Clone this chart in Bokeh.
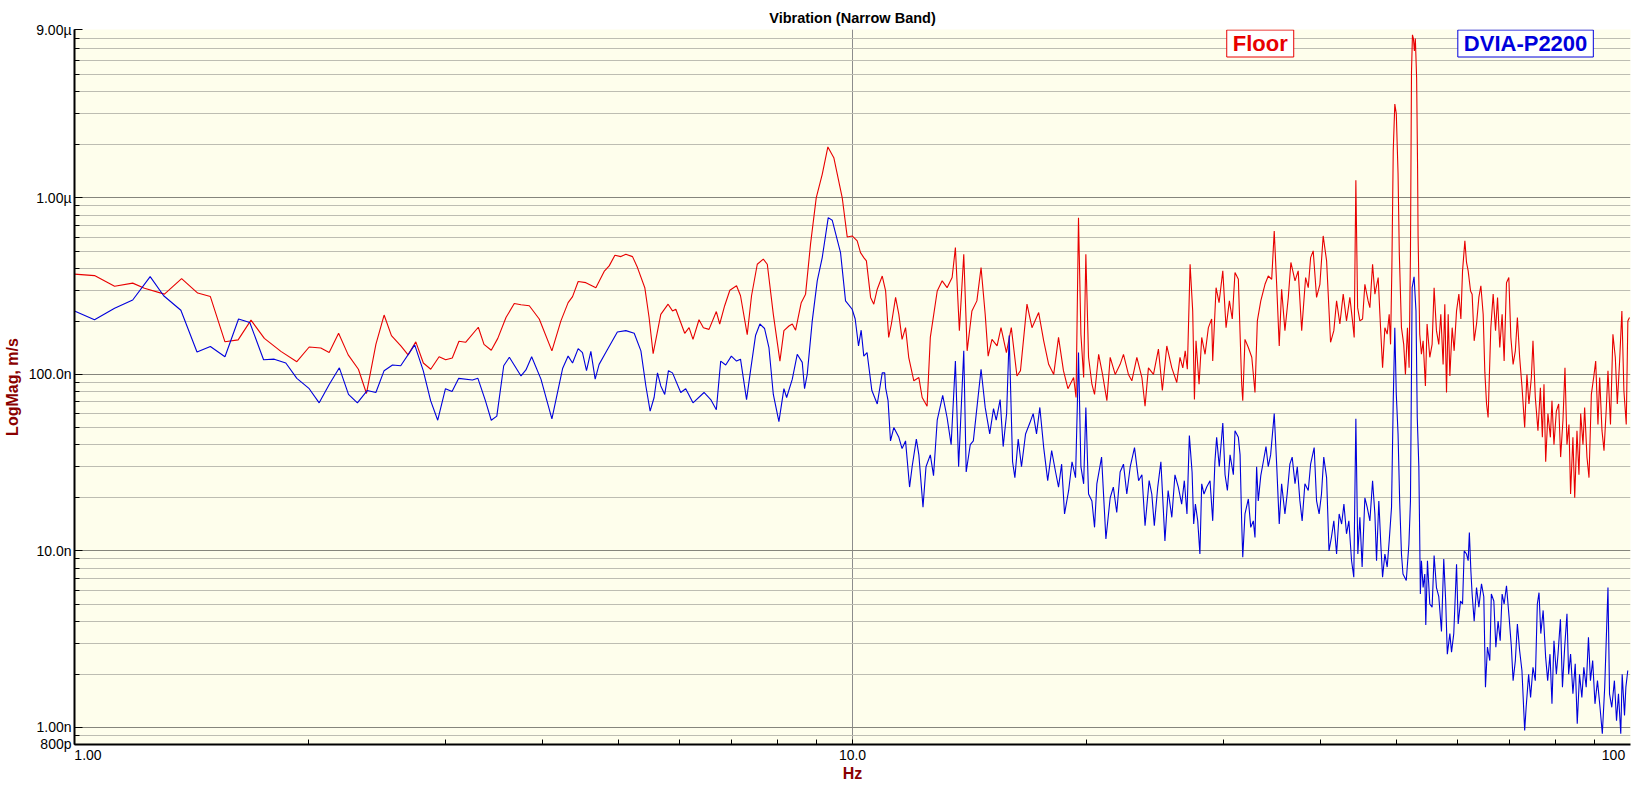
import math
from bokeh.plotting import figure
from bokeh.models import FixedTicker, Label, ColumnDataSource, CustomJSTickFormatter, Range1d
from bokeh.embed import file_html
from bokeh.resources import INLINE

# ---------------- data (frequency in Hz, velocity in nm/s) ----------------
floor_hz = [1.000, 1.061, 1.126, 1.188, 1.230, 1.305, 1.373, 1.440, 1.495, 1.561, 1.623, 1.686, 1.754,
            1.842, 1.931, 2.003, 2.073, 2.125, 2.185, 2.248, 2.317, 2.373, 2.440, 2.500, 2.555, 2.627,
            2.684, 2.746, 2.808, 2.870, 2.942, 3.000, 3.059, 3.120, 3.182, 3.304, 3.360, 3.433,
            3.500, 3.586, 3.675, 3.749, 3.842, 3.957, 4.108, 4.219, 4.310, 4.367, 4.440, 4.542, 4.679,
            4.795, 4.867, 4.950, 5.039, 5.113, 5.215, 5.292, 5.408, 5.477, 5.543, 5.670, 5.794, 5.870,
            5.928, 6.086, 6.165, 6.237, 6.349, 6.432, 6.540, 6.683, 6.750, 6.850, 6.956, 7.095, 7.179,
            7.323, 7.417, 7.544, 7.680, 7.771, 7.911, 8.067, 8.163, 8.285, 8.368, 8.450, 8.592, 8.703,
            8.832, 8.982, 9.143, 9.297, 9.462, 9.701, 9.845, 9.990, 10.14, 10.24, 10.34, 10.42, 10.55,
            10.65, 10.76, 10.92, 11.03, 11.13, 11.22, 11.36, 11.47, 11.58, 11.70, 11.81, 11.99, 12.17,
            12.29, 12.47, 12.59, 12.85, 13.04, 13.23, 13.43, 13.56, 13.72, 13.90, 14.04, 14.24, 14.45,
            14.63, 14.81, 14.94, 15.11, 15.34, 15.52, 15.77, 16.00, 16.27, 16.44, 16.76, 17.01, 17.35,
            17.61, 17.87, 18.14, 18.40, 18.67, 18.92, 19.24, 19.38, 19.52, 19.66, 19.82, 19.95, 20.11,
            20.31, 20.47, 20.72, 20.96, 21.23, 21.44, 21.76, 22.08, 22.30, 22.63, 22.86, 23.20, 23.55,
            23.77, 24.01, 24.37, 24.73, 25.02, 25.35, 25.73, 26.11, 26.36, 26.58, 26.77, 26.94, 27.16,
            27.37, 27.51, 27.64, 27.89, 28.11, 28.39, 28.67, 28.95, 29.04, 29.33, 29.59, 29.92, 30.21,
            30.51, 30.77, 31.02, 31.33, 31.64, 31.74, 31.95, 32.27, 32.60, 32.91, 33.14, 33.48, 33.90,
            34.23, 34.58, 34.84, 35.09, 35.36, 35.61, 35.96, 36.32, 36.60, 37.05, 37.40, 37.79, 38.23,
            38.53, 38.80, 39.10, 39.49, 39.88, 40.27, 40.68, 41.16, 41.56, 41.90, 42.31, 42.73, 43.15,
            43.58, 43.92, 44.14, 44.36, 44.59, 44.89, 45.25, 45.56, 46.00, 46.24, 46.61, 46.93, 47.39,
            47.63, 48.01, 48.34, 48.67, 48.96, 49.16, 49.35, 49.55, 49.78, 50.00, 50.26, 50.45, 50.77,
            51.11, 51.37, 51.68, 51.93, 52.14, 52.30, 52.45, 52.60, 52.75, 52.90, 53.10, 53.25, 53.33,
            53.59, 53.86, 54.13, 54.50, 54.77, 55.21, 55.59, 55.92, 56.31, 56.70, 57.04, 57.43, 57.72,
            58.01, 58.30, 58.59, 58.99, 59.34, 59.76, 60.17, 60.53, 60.83, 61.25, 61.55, 61.85, 62.29,
            62.58, 62.96, 63.40, 63.84, 64.22, 64.66, 64.98, 65.31, 65.61, 66.14, 66.60, 67.07, 67.47,
            67.92, 68.39, 68.80, 69.28, 69.76, 70.18, 70.65, 71.12, 71.55, 72.03, 72.52, 73.11, 73.60,
            74.04, 74.57, 74.93, 75.45, 76.04, 76.59, 77.04, 77.41, 77.80, 78.32, 78.89, 79.26, 79.73,
            80.30, 80.85, 81.32, 81.88, 82.37, 82.86, 83.35, 83.75, 84.33, 84.78, 85.35, 85.85, 86.29,
            86.88, 87.31, 87.91, 88.44, 89.06, 89.67, 90.21, 90.82, 91.28, 91.91, 92.46, 93.10, 93.55,
            94.25, 94.93, 95.60, 96.17, 96.83, 97.48, 98.06, 98.75, 99.22, 99.70]
floor_nms = [370, 363, 316, 329, 308, 285, 349, 289, 276, 153, 157, 203, 160,
             135, 118, 143, 141, 133, 171, 129, 107, 78, 148, 217, 166, 145,
             129, 153, 116, 107, 126, 121, 124, 154, 152, 185, 148, 137,
             160, 210, 252, 248, 245, 206, 136, 201, 255, 276, 336, 331, 310,
             383, 412, 473, 465, 480, 465, 403, 310, 210, 131, 219, 250, 229,
             234, 171, 184, 158, 204, 184, 180, 227, 193, 245, 300, 318, 279,
             168, 279, 421, 450, 421, 219, 119, 177, 188, 193, 178, 255, 285,
             547, 1000, 1361, 1945, 1690, 1000, 601, 609, 571, 490, 459, 440, 273,
             250, 304, 361, 297, 162, 193, 273, 219, 158, 184, 125, 92, 96,
             74, 66, 162, 297, 339, 310, 354, 523, 177, 480, 136, 229, 261,
             403, 219, 127, 158, 145, 184, 133, 184, 98, 105, 250, 184, 224,
             155, 114, 100, 162, 105, 83, 96, 74, 773, 169, 96, 480, 125,
             88, 77, 130, 100, 71, 125, 100, 114, 130, 100, 92, 125, 96,
             66, 109, 100, 139, 81, 145, 109, 90, 125, 109, 136, 107, 421,
             229, 72, 155, 88, 162, 130, 184, 206, 119, 310, 255, 386, 184,
             261, 206, 378, 346, 88, 71, 158, 142, 125, 79, 201, 261, 324,
             361, 346, 650, 324, 145, 304, 177, 273, 431, 339, 386, 177, 354,
             310, 459, 501, 273, 324, 609, 440, 152, 177, 261, 193, 285, 201,
             273, 201, 162, 1260, 239, 201, 206, 324, 261, 239, 421, 285, 354,
             219, 109, 184, 169, 219, 148, 403, 1850, 3400, 3000, 1370, 480, 184,
             148, 100, 184, 109, 480, 5200, 8400, 8000, 6800, 8000, 4800, 1480, 609,
             169, 130, 155, 86, 193, 125, 148, 310, 177, 148, 219, 114, 250,
             79, 219, 98, 184, 136, 229, 285, 206, 386, 571, 431, 386, 297,
             285, 155, 193, 273, 318, 219, 103, 68, 57, 184, 285, 177, 273,
             142, 219, 119, 331, 354, 162, 114, 136, 210, 125, 86, 50, 100,
             68, 96, 155, 74, 48, 84, 44, 88, 32, 60, 44, 71, 40,
             62, 68, 34, 55, 109, 40, 52, 21, 44, 20, 48, 27, 60,
             40, 65, 34, 26, 77, 96, 119, 52, 96, 48, 37, 65, 105,
             52, 169, 125, 68, 119, 229, 81, 52, 201, 210]

dvia_hz = [1.000, 1.061, 1.126, 1.188, 1.251, 1.302, 1.370, 1.437, 1.495, 1.561, 1.625, 1.680, 1.750,
           1.806, 1.869, 1.931, 2.003, 2.063, 2.126, 2.190, 2.250, 2.310, 2.378, 2.440, 2.500, 2.563,
           2.626, 2.737, 2.807, 2.869, 2.930, 2.998, 3.057, 3.118, 3.247, 3.300, 3.374, 3.433,
           3.490, 3.562, 3.622, 3.749, 3.804, 3.869, 3.977, 4.108, 4.240, 4.310, 4.367, 4.440, 4.497,
           4.551, 4.610, 4.669, 4.724, 4.818, 4.986, 5.113, 5.241, 5.346, 5.425, 5.494, 5.559, 5.615,
           5.670, 5.737, 5.800, 5.870, 6.015, 6.104, 6.237, 6.444, 6.573, 6.683, 6.770, 6.871, 6.987,
           7.095, 7.179, 7.308, 7.395, 7.505, 7.603, 7.709, 7.809, 7.911, 8.043, 8.163, 8.229, 8.368,
           8.491, 8.618, 8.677, 8.746, 8.877, 9.009, 9.143, 9.307, 9.417, 9.652, 9.796, 9.990, 10.08,
           10.18, 10.26, 10.34, 10.44, 10.59, 10.76, 10.92, 11.00, 11.03, 11.11, 11.19, 11.30, 11.47,
           11.58, 11.70, 11.84, 11.93, 12.08, 12.17, 12.32, 12.43, 12.59, 12.71, 12.85, 13.06, 13.23,
           13.39, 13.56, 13.69, 13.90, 14.00, 14.17, 14.30, 14.63, 14.81, 15.01, 15.18, 15.30, 15.48,
           15.62, 15.78, 15.90, 16.06, 16.17, 16.33, 16.49, 16.69, 16.90, 17.07, 17.24, 17.41, 17.61,
           17.82, 18.03, 18.24, 18.40, 18.57, 18.73, 18.96, 19.15, 19.35, 19.45, 19.52, 19.66, 19.82,
           19.95, 20.11, 20.31, 20.47, 20.61, 20.90, 21.17, 21.44, 21.64, 21.86, 22.08, 22.30, 22.52,
           22.75, 23.04, 23.32, 23.55, 23.77, 24.06, 24.25, 24.43, 24.68, 24.91, 25.21, 25.45, 25.73,
           25.97, 26.23, 26.49, 26.70, 26.91, 27.10, 27.32, 27.45, 27.59, 27.78, 27.96, 28.11, 28.30,
           28.53, 28.81, 29.04, 29.23, 29.38, 29.61, 29.92, 30.12, 30.33, 30.57, 30.87, 31.02, 31.33,
           31.49, 31.64, 31.74, 31.95, 32.27, 32.50, 32.75, 32.91, 33.07, 33.23, 33.48, 33.73, 34.00,
           34.23, 34.47, 34.84, 35.09, 35.36, 35.61, 35.96, 36.20, 36.49, 36.74, 37.05, 37.30, 37.59,
           37.84, 38.15, 38.53, 38.80, 39.21, 39.49, 39.79, 40.07, 40.34, 40.68, 40.97, 41.26, 41.56,
           41.90, 42.22, 42.53, 42.82, 43.15, 43.45, 43.80, 44.09, 44.36, 44.62, 44.89, 45.19, 45.56,
           45.87, 46.24, 46.61, 46.93, 47.16, 47.48, 47.76, 48.01, 48.34, 48.67, 48.96, 49.30, 49.55,
           49.78, 50.00, 50.26, 50.50, 50.77, 51.00, 51.50, 51.90, 52.14, 52.40, 52.70, 53.00, 53.20,
           53.45, 53.60, 53.69, 53.86, 54.13, 54.40, 54.56, 54.83, 55.21, 55.59, 55.92, 56.31, 56.70,
           57.15, 57.54, 57.87, 58.15, 58.59, 58.88, 59.27, 59.76, 60.05, 60.47, 60.83, 61.13, 61.55,
           61.85, 62.07, 62.35, 62.58, 62.96, 63.40, 63.84, 64.34, 64.78, 65.10, 65.48, 65.94, 66.24,
           66.73, 67.13, 67.58, 68.00, 68.39, 68.80, 69.28, 69.82, 70.29, 70.65, 71.12, 71.55, 72.03,
           72.52, 73.11, 73.43, 73.97, 74.40, 74.93, 75.45, 75.90, 76.28, 76.68, 77.22, 77.79, 78.26,
           78.80, 79.26, 79.73, 80.30, 80.69, 81.27, 81.76, 82.30, 82.86, 83.27, 83.75, 84.33, 84.91,
           85.42, 86.00, 86.59, 87.10, 87.71, 88.30, 88.82, 89.41, 90.02, 90.69, 91.37, 92.00, 92.65,
           93.55, 93.98, 94.61, 95.35, 95.95, 96.50, 97.16, 97.57, 98.24, 98.64, 99.20]
dvia_nms = [229, 204, 237, 264, 358, 279, 231, 134, 144, 126, 206, 197, 121,
            122, 116, 95, 83, 69, 88, 109, 77, 69, 81, 79, 105, 113,
            112, 147, 105, 71, 55, 83, 80, 95, 93, 95, 71, 55,
            58, 112, 125, 98, 106, 126, 94, 56, 108, 127, 116, 140, 133,
            105, 135, 94, 114, 133, 174, 177, 171, 136, 86, 62, 74, 102,
            86, 77, 105, 102, 79, 83, 69, 79, 72, 63, 119, 113, 127,
            119, 122, 72, 105, 166, 193, 182, 142, 77, 54, 83, 74, 94,
            130, 117, 83, 100, 201, 339, 459, 773, 748, 490, 261, 234, 206,
            145, 178, 127, 133, 81, 68, 102, 102, 84, 71, 42, 50, 44,
            38, 42, 23, 30, 43, 35, 17.7, 30, 35, 26.7, 55, 76, 57,
            40, 119, 30, 136, 28, 40, 42, 107, 65, 46, 64, 55, 72,
            39, 60, 166, 32, 26, 43, 30, 46, 53, 60, 46, 65, 38.5,
            25, 37, 28, 23, 31, 16.2, 22, 32, 26, 65, 133, 30, 24,
            65, 21, 19.2, 13.6, 24, 34, 11.7, 20, 23, 16.5, 28, 31, 21,
            30, 38.5, 25, 27, 13.9, 25, 21, 13.9, 23, 32, 11.4, 22, 15.5,
            27, 23, 18.4, 25, 16.2, 45, 28, 14.2, 18.4, 14.8, 9.6, 24, 21,
            23, 25, 14.8, 32, 44, 30, 53, 27, 22, 35, 27, 48, 44,
            35, 14.5, 9.2, 16.2, 19.7, 13.6, 14.8, 11.9, 30, 19.2, 26.7, 32, 39,
            30, 35, 60, 31, 14.2, 24, 16.2, 21, 31, 34, 24, 30, 19.2,
            14.8, 24, 22, 31, 38.5, 19.2, 16.2, 21, 34, 26, 10, 11.9, 14.8,
            9.6, 16.2, 14.2, 18.4, 12.5, 14.8, 8.8, 7.1, 56, 9.6, 15.5, 8.1, 20,
            17.7, 14.8, 25, 16.2, 8.8, 19.2, 10.9, 7.1, 9.6, 8.1, 11.4, 17.7, 71,
            184, 77, 46, 19.2, 9.6, 7.4, 6.8, 10.9, 19.2, 310, 357, 229, 57,
            30, 10.9, 5.7, 8.8, 6.2, 7.4, 3.8, 8.8, 5.0, 4.8, 9.4, 6.2, 5.5,
            3.5, 9.0, 5.2, 2.6, 3.4, 2.67, 3.4, 8.4, 3.85, 5.2, 5.0, 10, 9.6,
            8.8, 12.7, 7.7, 5.7, 4.0, 6.2, 4.8, 6.5, 5.5, 1.69, 2.85, 2.39, 5.7,
            5.2, 2.85, 4.0, 3.1, 5.7, 5.0, 6.35, 4.2, 2.85, 1.84, 2.39, 3.85, 2.72,
            2.1, 0.96, 1.3, 2.0, 1.48, 2.19, 1.84, 5.0, 5.8, 3.4, 4.6, 2.5, 1.84,
            2.6, 1.36, 3.1, 2.0, 2.6, 4.1, 1.69, 2.85, 4.4, 2.0, 2.6, 1.55, 2.29,
            1.05, 2.0, 1.48, 2.19, 1.69, 3.24, 1.84, 2.39, 1.36, 1.84, 1.3, 0.92, 1.69,
            6.2, 1.55, 1.3, 1.84, 1.09, 1.55, 0.92, 2.0, 1.17, 1.69, 2.1]

series_names = ["Floor", "DVIA-P2200"]
x_tick_labels = ["1.00", "10.0", "100"]
y_tick_values = [9e-6, 1e-6, 1e-7, 1e-8, 1e-9, 8e-10]
y_tick_labels = ["9.00\u00b5", "1.00\u00b5", "100.0n", "10.0n", "1.00n", "800p"]

# ---------------- layout ----------------
W, H = 1638, 788
BL, BR, BT, BB = 73, 8, 29, 44
X0, X1 = 1.0, 100.0
Y0, Y1 = 8e-10, 9e-6
FW = W - BL - BR
PX_DEC_X = FW / math.log10(X1 / X0)


def sx(px):
    """x value at a pixel offset from the frame's left edge (used for label anchors)"""
    return X0 * 10 ** (px / PX_DEC_X)


FONT = "Liberation Sans"
RED = "#E80000"
BLUE = "#0000DC"
DARKRED = "#8A0000"

p = figure(width=W, height=H, x_axis_type="log", y_axis_type="log",
           x_range=Range1d(X0, X1), y_range=Range1d(Y0, Y1),
           output_backend="svg", toolbar_location=None,
           min_border_left=BL, min_border_right=BR, min_border_top=BT, min_border_bottom=BB,
           title="Vibration (Narrow Band)")
p.outline_line_color = None
p.background_fill_color = "#FEFEEC"
p.border_fill_color = "white"

p.title.align = "center"
p.title.vertical_align = "bottom"
p.title.offset = 8
p.title.text_font = FONT
p.title.text_font_size = "14.5px"
p.title.text_font_style = "bold"
p.title.text_color = "black"
p.title.standoff = 8

# grids
decades = [1e-9, 1e-8, 1e-7, 1e-6]
minors = []
for e in range(-10, -5):
    for k in range(2, 10):
        v = k * 10.0 ** e
        if Y0 * 0.999 <= v <= Y1 * 1.001:
            minors.append(v)
p.ygrid.ticker = FixedTicker(ticks=decades, minor_ticks=minors)
p.ygrid.grid_line_color = "#85857c"
p.ygrid.minor_grid_line_color = "#bdbdb2"
p.xgrid.ticker = FixedTicker(ticks=[10.0], minor_ticks=[])
p.xgrid.grid_line_color = "#8c8c8c"

LOOKUP = """
let best = '', bd = 1e9;
for (let i = 0; i < vals.length; i++) {
  const d = Math.abs(Math.log10(tick) - Math.log10(vals[i]));
  if (d < bd) { bd = d; best = labs[i]; }
}
return bd < 1e-3 ? best : '';
"""

# x axis: labels anchored like the reference (first left-aligned, last right-aligned)
x_label_pos = [sx(13.5), 10.0, sx(FW - 17)]
x_minor = [k * 10.0 ** e for e in (0, 1) for k in range(2, 10)] + [10.0]
p.xaxis.ticker = FixedTicker(ticks=x_label_pos, minor_ticks=x_minor)
p.xaxis.formatter = CustomJSTickFormatter(args=dict(vals=x_label_pos, labs=x_tick_labels), code=LOOKUP)
p.xaxis.major_tick_in = 0
p.xaxis.major_tick_out = 0
p.xaxis.major_label_standoff = 5
p.xaxis.axis_label = "Hz"
p.xaxis.axis_label_standoff = 2

y_tick_pos = [Y1 * 0.99999] + y_tick_values[1:-1] + [Y0 * 1.00001]
p.yaxis.ticker = FixedTicker(ticks=y_tick_pos, minor_ticks=minors)
p.yaxis.formatter = CustomJSTickFormatter(args=dict(vals=y_tick_pos, labs=y_tick_labels), code=LOOKUP)
p.yaxis.major_tick_in = 8
p.yaxis.major_tick_out = 0
p.yaxis.major_label_standoff = 3
p.yaxis.axis_label = "LogMag, m/s"
p.yaxis.axis_label_standoff = 5

for ax in (p.xaxis, p.yaxis):
    ax.axis_line_width = 2
    ax.axis_line_color = "black"
    ax.minor_tick_in = 5
    ax.minor_tick_out = 0
    ax.major_tick_line_color = "black"
    ax.minor_tick_line_color = "black"
    ax.major_label_text_font = FONT
    ax.major_label_text_font_size = "14px"
    ax.major_label_text_color = "black"
    ax.axis_label_text_font = FONT
    ax.axis_label_text_font_size = "16px"
    ax.axis_label_text_font_style = "bold"
    ax.axis_label_text_color = DARKRED

# series
src_floor = ColumnDataSource(dict(x=floor_hz, y=[v * 1e-9 for v in floor_nms]))
src_dvia = ColumnDataSource(dict(x=dvia_hz, y=[v * 1e-9 for v in dvia_nms]))
p.line("x", "y", source=src_floor, line_color=RED, line_width=1.1)
p.line("x", "y", source=src_dvia, line_color=BLUE, line_width=1.1)

# legend boxes (inside the frame, hanging from its top edge)
legend_y = Y1 * 10 ** (-14 / ((H - BT - BB) / math.log10(Y1 / Y0)))
p.add_layout(Label(x=sx(1186.5), y=legend_y, text=series_names[0], text_align="center",
                   text_baseline="middle", text_font=FONT, text_font_size="22px",
                   text_font_style="bold", text_color=RED, background_fill_color="white",
                   border_line_color=RED, border_line_width=1, padding=(6, 1)))
p.add_layout(Label(x=sx(1452), y=legend_y, text=series_names[1], text_align="center",
                   text_baseline="middle", text_font=FONT, text_font_size="22px",
                   text_font_style="bold", text_color=BLUE, background_fill_color="white",
                   border_line_color=BLUE, border_line_width=1, padding=(6, 1)))

open("out.html", "w").write(file_html(p, INLINE))
